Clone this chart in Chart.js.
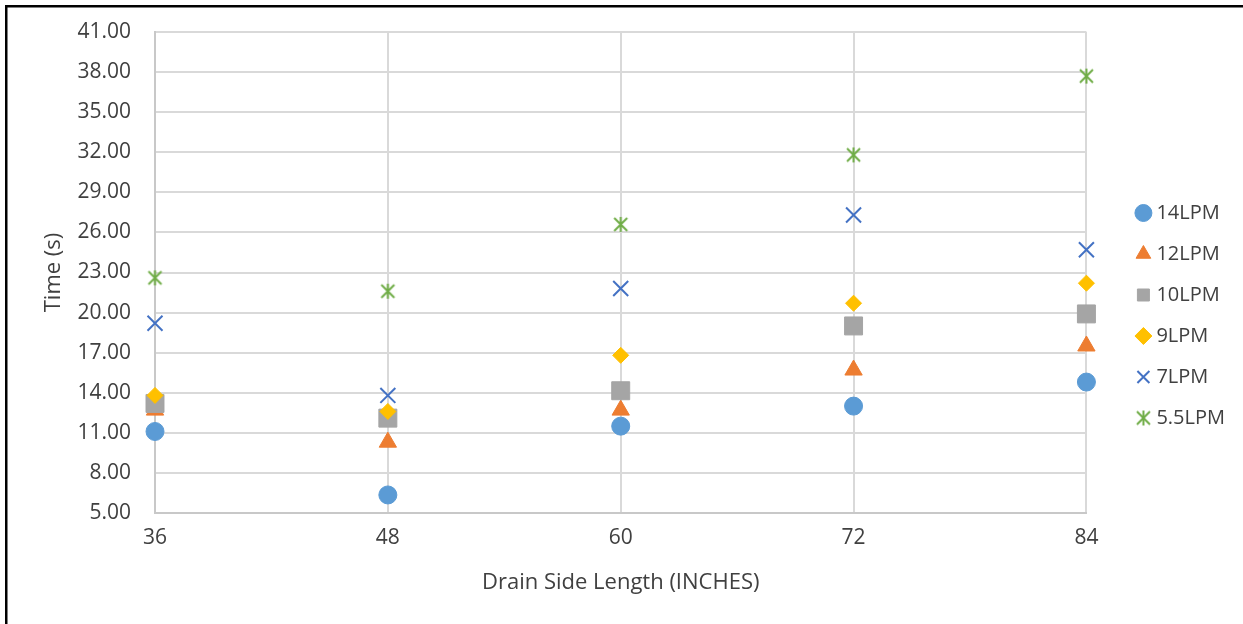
<!DOCTYPE html>
<html>
<head>
<meta charset="utf-8">
<script src="https://cdn.jsdelivr.net/npm/chart.js@4/dist/chart.umd.min.js"></script>
<style>
  html, body { margin: 0; padding: 0; background: #fff; }
  canvas { display: block; }
</style>
</head>
<body>
<canvas id="drainChart" width="1243" height="624"></canvas>
<script>
var sideLengths = [36, 48, 60, 72, 84];
var flow14 = [11.1, 6.35, 11.5, 13.0, 14.8];
var flow12 = [12.7, 10.3, 12.7, 15.7, 17.5];
var flow10 = [13.2, 12.1, 14.15, 19.0, 19.9];
var flow9 = [13.8, 12.6, 16.8, 20.7, 22.2];
var flow7 = [19.2, 13.8, 21.8, 27.3, 24.7];
var flow55 = [22.6, 21.6, 26.6, 31.8, 37.7];
var seriesNames = ['14LPM', '12LPM', '10LPM', '9LPM', '7LPM', '5.5LPM'];

var textColor = '#404040';
var gridColor = '#d9d9d9';
var fontFamily = "'Open Sans', 'Noto Sans', sans-serif";

// excel-style asterisk marker: an X with a vertical stroke
function makeStar(color) {
    var c = document.createElement('canvas');
    c.width = 17;
    c.height = 17;
    var g = c.getContext('2d');
    g.strokeStyle = color;
    g.lineWidth = 2;
    g.beginPath();
    g.moveTo(2, 2); g.lineTo(15, 15);
    g.moveTo(15, 2); g.lineTo(2, 15);
    g.moveTo(8.5, 1); g.lineTo(8.5, 16);
    g.stroke();
    return c;
}

function toPoints(values) {
    return values.map(function (v, i) { return { x: sideLengths[i], y: v }; });
}

var styles = [
    { color: '#5B9BD5', pointStyle: 'circle', radius: 9, width: 1 },
    { color: '#ED7D31', pointStyle: 'triangle', radius: 10, width: 1 },
    { color: '#A5A5A5', pointStyle: 'rect', radius: 12.7, width: 1 },
    { color: '#FFC000', pointStyle: 'rectRot', radius: 8, width: 1 },
    { color: '#4472C4', pointStyle: 'crossRot', radius: 10.6, width: 2 },
    { color: '#70AD47', pointStyle: makeStar('#70AD47'), radius: 8, width: 2 }
];
var allSeries = [flow14, flow12, flow10, flow9, flow7, flow55];

var datasets = allSeries.map(function (vals, i) {
    var s = styles[i];
    return {
        label: seriesNames[i],
        data: toPoints(vals),
        pointStyle: s.pointStyle,
        pointRadius: s.radius,
        pointHoverRadius: s.radius,
        backgroundColor: s.color,
        borderColor: s.color,
        pointBorderWidth: s.width,
        borderWidth: s.width,
        showLine: false,
        clip: false,
        // later series sit on top
        order: allSeries.length - i
    };
});

var framePlugin = {
    id: 'frame',
    beforeDraw: function (chart) {
        var ctx = chart.ctx;
        ctx.save();
        ctx.fillStyle = '#fff';
        ctx.fillRect(0, 0, chart.width, chart.height);
        ctx.fillStyle = '#000';
        ctx.fillRect(5, 5, chart.width - 5, 2.5);
        ctx.fillRect(5, 5, 2.5, chart.height - 5);
        ctx.restore();
    }
};

new Chart(document.getElementById('drainChart'), {
    type: 'scatter',
    data: { datasets: datasets },
    options: {
        responsive: false,
        animation: false,
        layout: { autoPadding: false, padding: { top: 32, bottom: 25, left: 0, right: 8 } },
        scales: {
            x: {
                type: 'linear',
                min: 36,
                max: 84,
                afterFit: function (s) { s.height = 86; },
                ticks: {
                    stepSize: 12,
                    padding: 12,
                    color: textColor,
                    font: { family: fontFamily, size: 21 }
                },
                grid: { color: gridColor, lineWidth: 2, drawTicks: false },
                border: { color: '#c8c8c8', width: 2 },
                title: {
                    display: true,
                    text: 'Drain Side Length (INCHES)',
                    color: textColor,
                    padding: 3,
                    font: { family: fontFamily, size: 22 }
                }
            },
            y: {
                min: 5,
                max: 41,
                afterFit: function (s) {
                    s.width = 155;
                    s.paddingTop = 0;
                    s.paddingBottom = 0;
                },
                ticks: {
                    stepSize: 3,
                    padding: 24,
                    color: textColor,
                    font: { family: fontFamily, size: 21 },
                    callback: function (v) { return v.toFixed(2); }
                },
                grid: { color: gridColor, lineWidth: 2, drawTicks: false },
                border: { color: '#c8c8c8', width: 2 },
                title: {
                    display: true,
                    text: 'Time (s)',
                    color: textColor,
                    padding: 41,
                    font: { family: fontFamily, size: 22 }
                }
            },
            // empty axis that keeps the legend clear of the plot
            gap: {
                type: 'linear',
                position: 'right',
                display: true,
                afterFit: function (s) { s.width = 33; },
                ticks: { display: false },
                grid: { display: false },
                border: { display: false }
            }
        },
        plugins: {
            tooltip: { enabled: false },
            legend: {
                position: 'right',
                labels: {
                    usePointStyle: true,
                    boxWidth: 6,
                    boxHeight: 12,
                    padding: 21,
                    color: textColor,
                    font: { family: fontFamily, size: 20 },
                    sort: function (a, b) { return a.datasetIndex - b.datasetIndex; }
                }
            }
        }
    },
    plugins: [framePlugin]
});
</script>
</body>
</html>
